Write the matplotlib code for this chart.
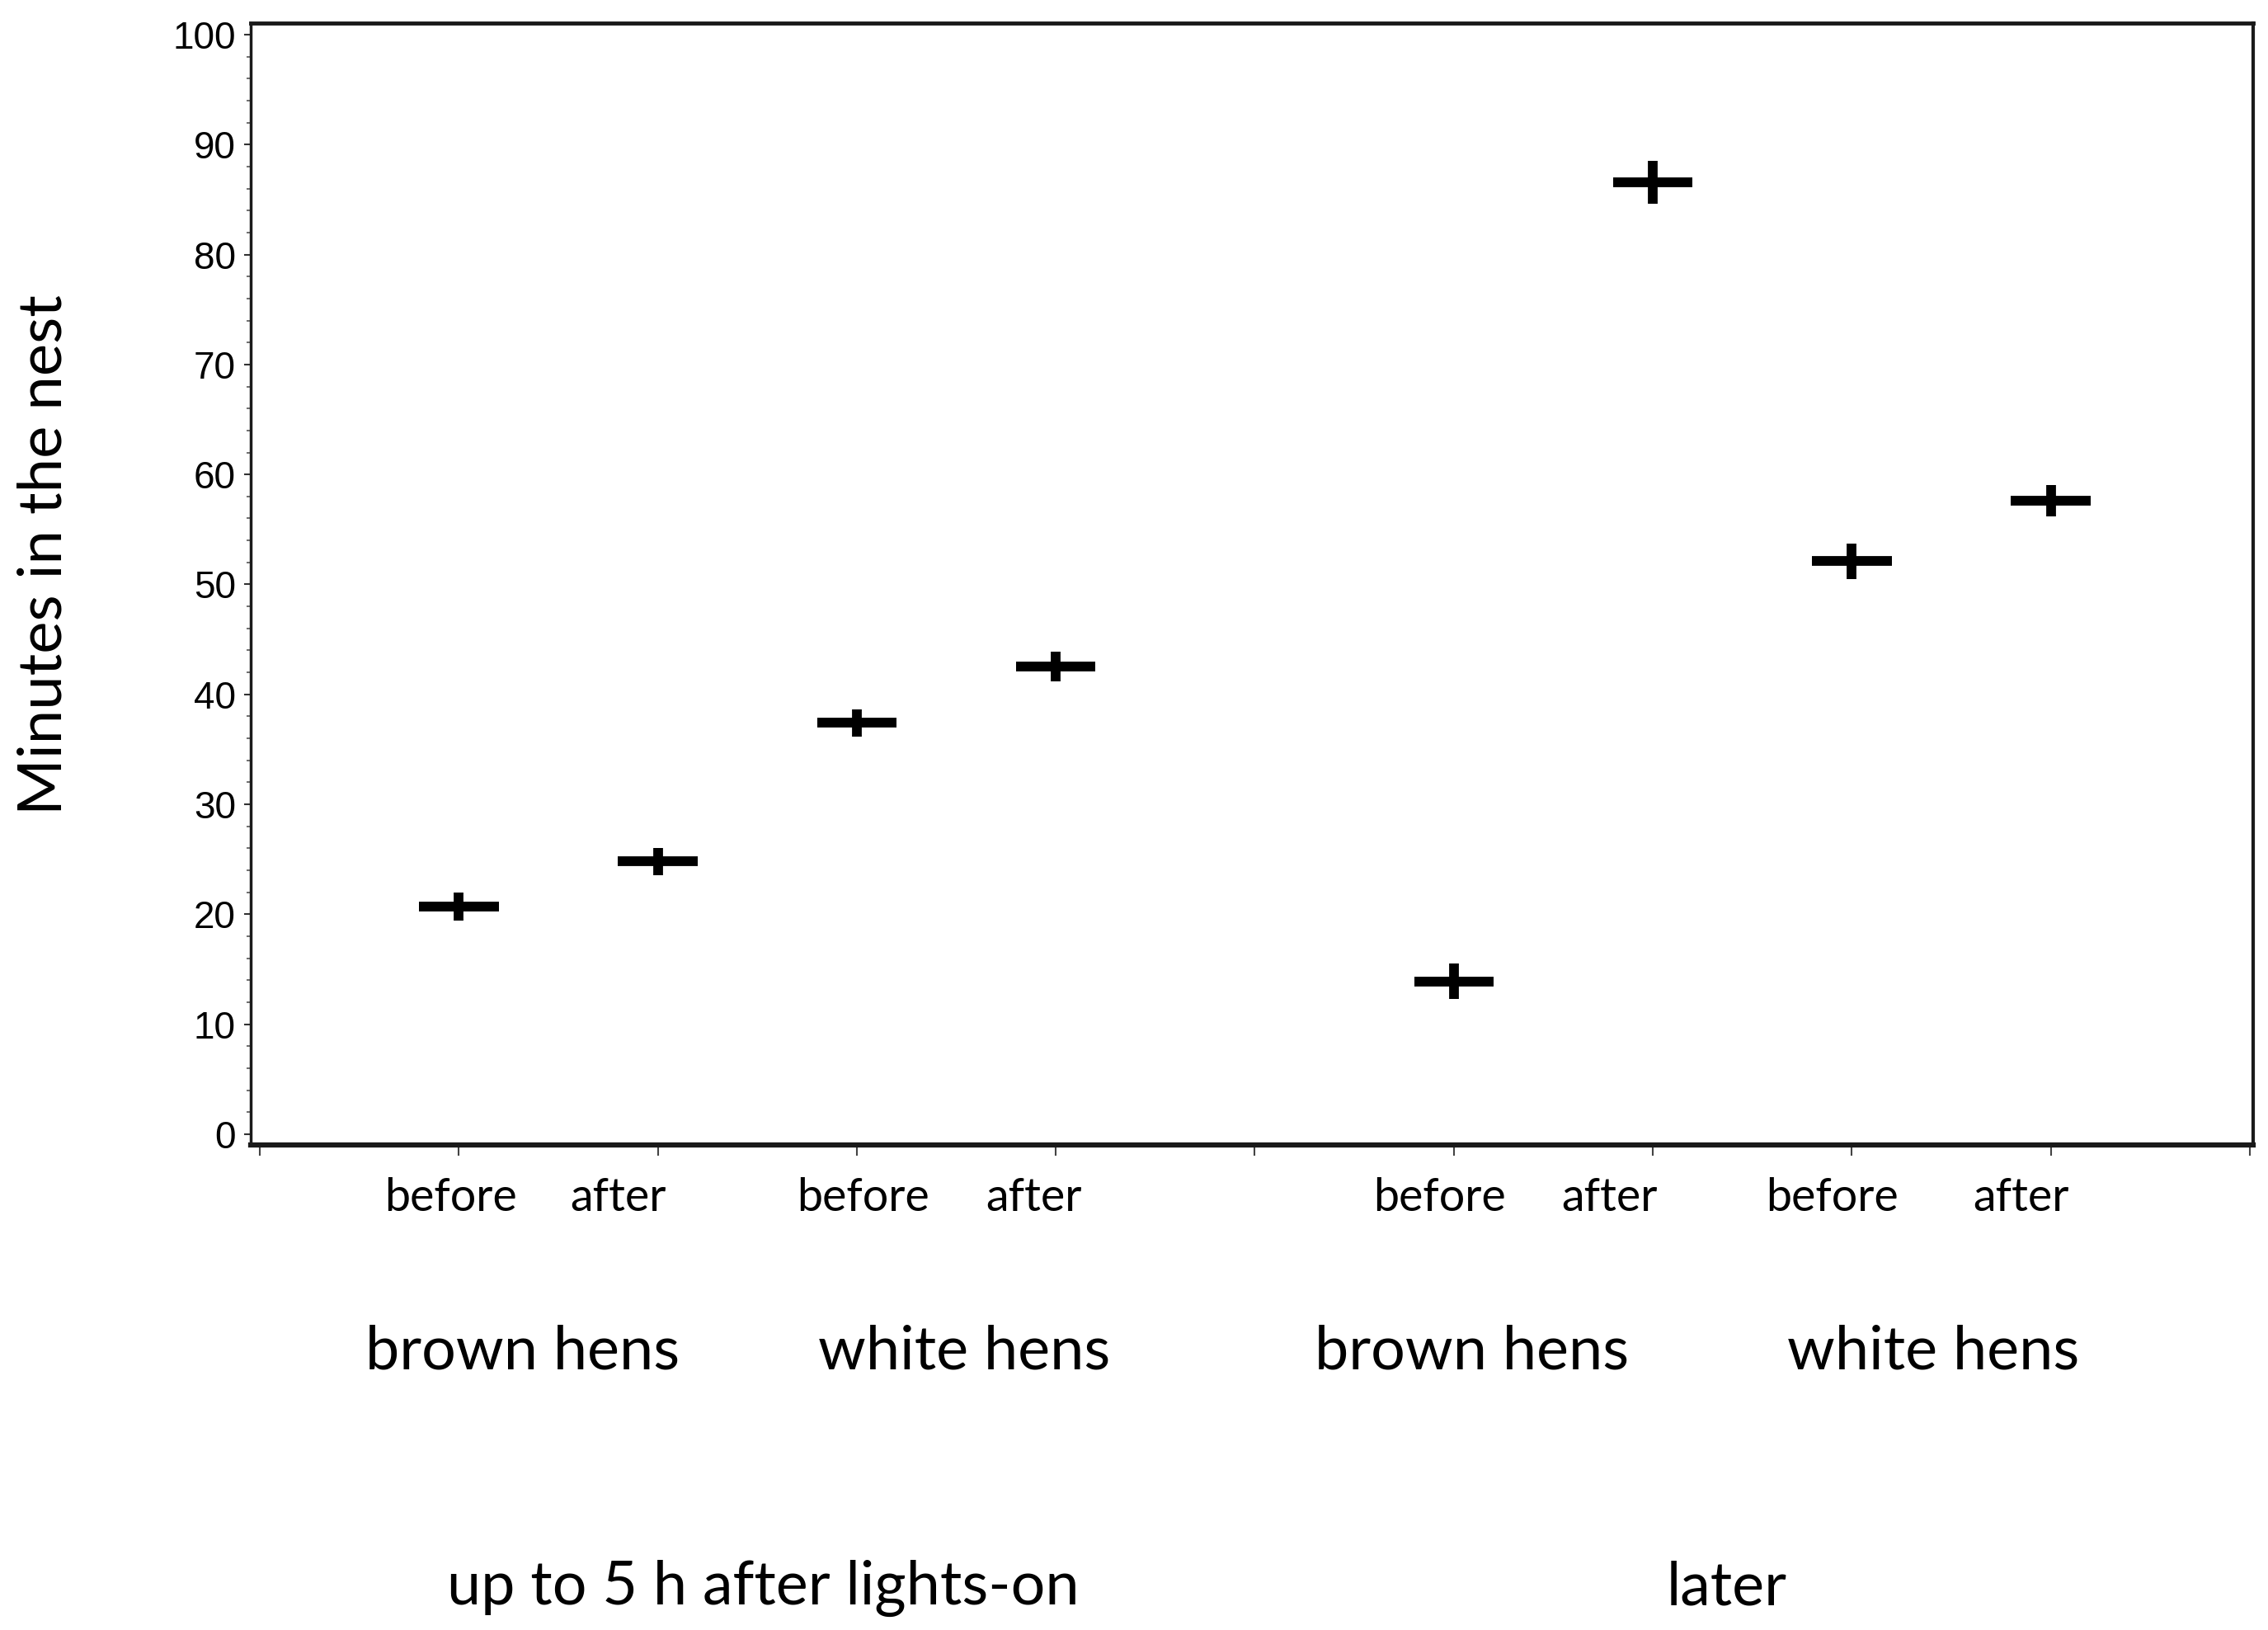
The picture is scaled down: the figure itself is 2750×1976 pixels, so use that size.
import matplotlib
matplotlib.use("Agg")
import matplotlib.pyplot as plt
import matplotlib.transforms as mtransforms
from matplotlib.ticker import MultipleLocator

# nest time per group (minutes)
positions = [1, 2, 3, 4, 6, 7, 8, 9]
means = [20.7, 24.8, 37.4, 42.5, 13.9, 86.6, 52.1, 57.6]
errors = [1.3, 1.25, 1.25, 1.35, 1.6, 1.95, 1.6, 1.45]

cond_labels = ["before", "after", "before", "after", "before", "after", "before", "after"]
cond_label_x = [0.96, 1.80, 3.03, 3.89, 5.93, 6.78, 7.90, 8.85]
group_labels = ["brown hens", "white hens", "brown hens", "white hens"]
group_label_x = [1.32, 3.54, 6.09, 8.41]
period_labels = ["up to 5 h after lights-on", "later"]
period_label_x = [2.53, 7.37]

label_font = ["Lato", "DejaVu Sans"]
tick_font = ["Liberation Sans", "DejaVu Sans"]

fig = plt.figure(figsize=(27.5, 19.76), dpi=100)
ax = fig.add_axes([0.1105, 0.2976, 0.883, 0.6882])

ax.errorbar(positions, means, xerr=0.2, yerr=errors, fmt="none",
            ecolor="black", elinewidth=8.5, capsize=0)

ax.set_xlim(-0.046, 10.017)
ax.set_ylim(-0.98, 101.05)

ax.yaxis.set_major_locator(MultipleLocator(10))
ax.yaxis.set_minor_locator(MultipleLocator(2))
ax.tick_params(axis="y", which="major", length=6, width=1.5, pad=7,
               color="#333333", labelsize=33)
ax.tick_params(axis="y", which="minor", length=3.5, width=1.2, color="#555555")
for lbl in ax.get_yticklabels():
    lbl.set_fontfamily(tick_font)

ax.set_xticks(range(0, 11))
ax.set_xticklabels([])
ax.tick_params(axis="x", which="major", length=9, width=1.5, color="#444444")

ax.spines["left"].set_linewidth(2.5)
ax.spines["bottom"].set_linewidth(4.5)
ax.spines["top"].set_linewidth(3.5)
ax.spines["right"].set_linewidth(3)
for s in ax.spines.values():
    s.set_color("#1a1a1a")

# category labels under the axis
trans = mtransforms.blended_transform_factory(ax.transData, fig.transFigure)
for x, t in zip(cond_label_x, cond_labels):
    ax.text(x, 0.2571, t, transform=trans, ha="center", va="baseline",
            fontsize=40, fontfamily=label_font)
for x, t in zip(group_label_x, group_labels):
    ax.text(x, 0.160, t, transform=trans, ha="center", va="baseline",
            fontsize=53, fontfamily=label_font)
for x, t in zip(period_label_x, period_labels):
    ax.text(x, 0.0155, t, transform=trans, ha="center", va="baseline",
            fontsize=53, fontfamily=label_font)

fig.text(0.0195, 0.6596, "Minutes in the nest", rotation=90, ha="center",
         va="center", fontsize=53.5, fontfamily=label_font)

fig.savefig("out.png", dpi=100)
